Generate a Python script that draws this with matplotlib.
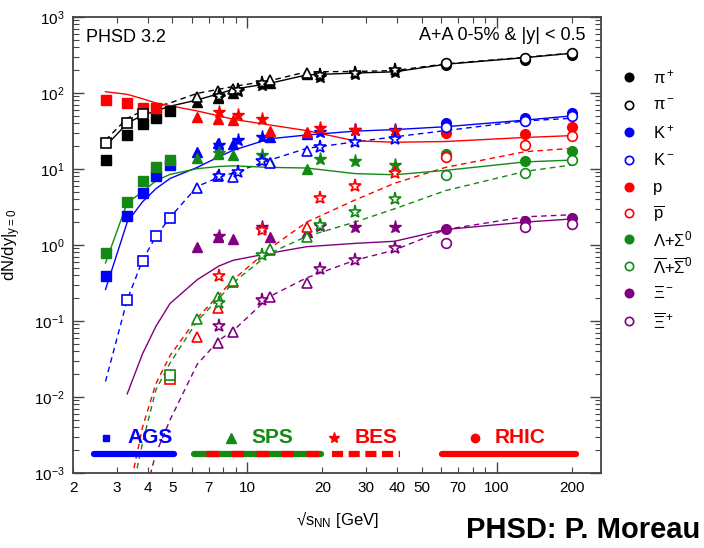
import numpy as np
import matplotlib.pyplot as plt

plt.rcParams['font.family'] = ['Liberation Sans', 'DejaVu Sans']
plt.rcParams['mathtext.fontset'] = 'custom'
plt.rcParams['mathtext.rm'] = 'Liberation Sans'
plt.rcParams['mathtext.it'] = 'Liberation Sans:italic'
plt.rcParams['mathtext.default'] = 'regular'
plt.rcParams['lines.scale_dashes'] = False

nan = np.nan

# measured energies sqrt(s_NN) in GeV
e_ags = [2.7, 3.3, 3.8, 4.3, 4.9]
e_sps = [6.3, 7.6, 8.8, 12.3, 17.3]
e_bes = [7.7, 9.2, 11.5, 19.6, 27, 39]
e_rhic = [62.4, 130, 200]

# data, order: AGS(5) | SPS(5) | BES(6) | RHIC(3)
pip_data = [13, 28, 39, 47, 58,  77, 85, 99, 134, 178,  88, 105, 128, 163, 178, 190,  235, 275, 320]
pim_data = [22, 40, 53, nan, nan,  89, 107, 112, 148, 185,  91, 109, 134, 170, 185, 198,  245, 286, 333]
kp_data = [0.39, 2.4, 4.9, 8.1, 11.3,  16.9, 21.8, 21.3, 26, 29,  21, 24, 26, 31, 32.6, 32.6,  40, 46.5, 54]
km_data = [nan, 0.19, 0.62, 1.31, 2.29,  5.7, 8.2, 7.9, 12.1, 17.4,  8.2, 9.1, 12.8, 19.6, 23, 25,  36, 43, 50]
p_data = [82, 73, 64, 64, nan,  48, 45, 44, 32, 31,  57, 51, 45, 35, 32.6, 32,  29.5, 29, 36]
pbar_data = [nan, nan, nan, nan, 0.017,  0.062, 0.15, 0.33, 0.85, 1.74,  0.39, nan, 1.57, 4.2, 6.0, 8.9,  14.3, 20.7, 27]
lam_data = [0.79, 3.7, 7.0, 10.5, 13.1,  13.8, 15.7, 15.3, 12.5, 10,  16, nan, 15.3, 13.4, 12.8, 11.3,  15.7, 12.7, 17.4]
lbar_data = [nan, nan, nan, nan, 0.0195,  0.105, 0.21, 0.34, 0.88, 1.29,  0.17, nan, 0.74, 1.83, 2.74, 4.0,  8.3, 8.9, 13.1]
xi_data = [nan, nan, nan, nan, nan,  0.95, 1.29, 1.19, 1.26, 1.5,  1.3, nan, 1.71, 1.8, 1.74, 1.74,  1.61, 2.09, 2.24]
xibar_data = [nan, nan, nan, nan, nan,  nan, 0.052, 0.072, 0.21, 0.32,  0.085, nan, 0.19, 0.48, 0.64, 0.91,  1.05, 1.74, 1.89]

# PHSD 3.2 curves
e_model = [2.7, 3.3, 3.5, 3.8, 4.3, 4.9, 6.3, 7.7, 8.8, 12.3, 17.3, 27, 39, 62.4, 130, 200]
pip_model = [19.9, 40, nan, 51, 58, 67, 81, 98, 112, 134, 173, 183, 190, 239, 292, 333]
pim_model = [24, 46.5, nan, 58, 66, 74, 99, 112, 122, 145, 190, 192, 197, 242, 295, 335]
kp_model = [0.26, 2.0, nan, 3.7, 5.5, 7.5, 10.5, 14.5, 17.7, 25, 28, 31.5, 33, 36, 44, 50]
km_model = [0.016, 0.19, nan, 0.63, 1.3, 2.3, 5.9, 7.8, 8.9, 13.1, 18.7, 22.7, 26.5, 32, 43, 46.5]
p_model = [104, 96, nan, 84, 74, 68, 58, 50, 45, 38, 32, 23.5, 22.5, 23, 26, 27.5]
pbar_model = [nan, 0.0002, 0.0011, 0.004, 0.015, 0.035, 0.11, 0.22, 0.35, 0.9, 2.0, 3.9, 6.5, 10.5, 16.9, 18.7]
lam_model = [0.58, 3.6, nan, 5.0, 7.0, 8.5, 10.1, 10.8, 11, 10.5, 10.3, 8.7, 8.4, 9.6, 12.4, 13.1]
lbar_model = [nan, 0.00015, 0.0007, 0.0025, 0.0124, 0.028, 0.1, 0.2, 0.32, 0.78, 1.3, 2.0, 3.0, 5.2, 9.3, 11.3]
xi_model = [nan, 0.011, nan, 0.037, 0.085, 0.17, 0.35, 0.53, 0.63, 0.78, 0.95, 1.05, 1.12, 1.6, 2.0, 2.2]
xibar_model = [nan, nan, nan, 0.0004, 0.0018, 0.005, 0.027, 0.056, 0.075, 0.21, 0.37, 0.63, 0.86, 1.6, 2.35, 2.5]

labels = ['π$^+$', 'π$^-$', 'K$^+$', 'K$^-$', 'p', r'$\overline{\mathregular{p}}$',
          'Λ+Σ$^0$', r'$\overline{\mathregular{Λ}}$+$\overline{\mathregular{Σ}}^0$',
          'Ξ$^-$', r'$\overline{\mathregular{Ξ}}^+$']

GREEN = '#138a13'
PURPLE = '#800080'
species = [
    ('k', True, pip_data, pip_model, '-'),
    ('k', False, pim_data, pim_model, '--'),
    ('#0000ff', True, kp_data, kp_model, '-'),
    ('#0000ff', False, km_data, km_model, '--'),
    ('#ff0000', True, p_data, p_model, '-'),
    ('#ff0000', False, pbar_data, pbar_model, '--'),
    (GREEN, True, lam_data, lam_model, '-'),
    (GREEN, False, lbar_data, lbar_model, '--'),
    (PURPLE, True, xi_data, xi_model, '-'),
    (PURPLE, False, xibar_data, xibar_model, '--'),
]

fig = plt.figure(figsize=(7.04, 5.48), dpi=100)
ax = fig.add_axes([73 / 704, 1 - 473 / 548, 528 / 704, 456 / 548])

# model curves
em = np.array(e_model)
for col, filled, data, model, ls in species:
    m = np.array(model, dtype=float)
    ok = ~np.isnan(m)
    ax.plot(em[ok], m[ok], ls=ls, color=col, lw=1.0,
            dashes=(4, 3) if ls == '--' else (None, None), zorder=2)

# data points
facilities = [(e_ags, 's', 6.5, 0), (e_sps, '^', 7.5, 5), (e_bes, '*', 9.5, 10), (e_rhic, 'o', 7, 16)]
for col, filled, data, model, ls in species:
    for ens, mk, ms, i0 in facilities:
        y = np.array(data[i0:i0 + len(ens)], dtype=float)
        ok = ~np.isnan(y)
        x = np.array(ens)[ok]
        if filled:
            ax.plot(x, y[ok], mk, color=col, ms=ms, mec=col, ls='none', zorder=3)
        else:
            ax.plot(x, y[ok], mk, mfc='white', mec=col, ms=ms, mew=1.2, ls='none', zorder=4)

ax.set_xscale('log')
ax.set_yscale('log')
ax.set_xlim(2, 262)
ax.set_ylim(1e-3, 1e3)

# facility bars
yb = 0.0018
yt = 0.0029
ax.plot([2.42, 5.1], [yb, yb], color='#0000ff', lw=4.5, solid_capstyle='round')
ax.plot([6.1, 19.8], [yb, yb], color=GREEN, lw=4.5, solid_capstyle='round')
ax.plot([6.1, 19.8], [yb, yb], color='#ff0000', lw=4.5, ls=(9, (9, 9)), dash_capstyle='butt')
ax.plot([21.8, 41], [yb, yb], color='#ff0000', lw=4.5, ls=(0, (8, 4)), dash_capstyle='butt')
ax.plot([60.5, 208], [yb, yb], color='#ff0000', lw=4.5, solid_capstyle='round')
ax.plot(2.72, yt, 's', color='#0000ff', ms=5)
ax.plot(8.6, yt, '^', color=GREEN, ms=6.5)
ax.plot(22.3, yt, '*', color='#ff0000', ms=8)
ax.plot(81.6, yt, 'o', color='#ff0000', ms=6)
kw = dict(fontsize=15, fontweight='bold', ha='center', va='center')
ax.text(4.09, yt, 'AGS', color='#0000ff', **kw)
ax.text(12.6, yt, 'SPS', color=GREEN, **kw)
ax.text(32.8, yt, 'BES', color='#ff0000', **kw)
ax.text(124, yt, 'RHIC', color='#ff0000', **kw)

# ticks
ax.set_xticks([10, 100])
ax.set_xticklabels(['10', '100'])
minor = [2, 3, 4, 5, 6, 7, 8, 9, 20, 30, 40, 50, 60, 70, 80, 90, 200]
ax.set_xticks(minor, minor=True)
ax.set_xticklabels([str(v) if v in (2, 3, 4, 5, 7, 20, 30, 40, 50, 70, 200) else '' for v in minor], minor=True)
ax.tick_params(which='both', direction='in', top=True, right=True, labelsize=11, pad=6, color='#444444')
ax.tick_params(which='major', length=8, width=1)
ax.tick_params(which='minor', length=4, width=0.8)
for s in ax.spines.values():
    s.set_color('#444444')
    s.set_linewidth(1.3)

ax.set_ylabel('dN/dy|$_{y=0}$', fontsize=12, labelpad=8)
ax.set_xlabel('√s$_{NN}$ [GeV]', fontsize=12, labelpad=10)

ax.text(0.025, 0.955, 'PHSD 3.2', transform=ax.transAxes, fontsize=13, va='center')
ax.text(0.97, 0.96, 'A+A 0-5% & |y| < 0.5', transform=ax.transAxes, fontsize=13, ha='right', va='center')

# legend drawn by hand to the right of the axes
leg_y = [77, 105, 132, 160, 187, 213, 239, 266, 293, 321]
for (col, filled, data, model, ls), lab, ypx in zip(species, labels, leg_y):
    yf = 1 - ypx / 548
    ax.plot([629 / 704], [yf], 'o', transform=fig.transFigure, clip_on=False, ms=6,
            color=col, mfc=col if filled else 'white', mec=col, mew=1.2)
    fig.text(653 / 704, yf, lab, fontsize=12, va='center', ha='left')

fig.text(700 / 704, 1 - 530 / 548, 'PHSD: P. Moreau', fontsize=21, fontweight='bold', ha='right', va='center')

fig.savefig('out.png', dpi=100)
